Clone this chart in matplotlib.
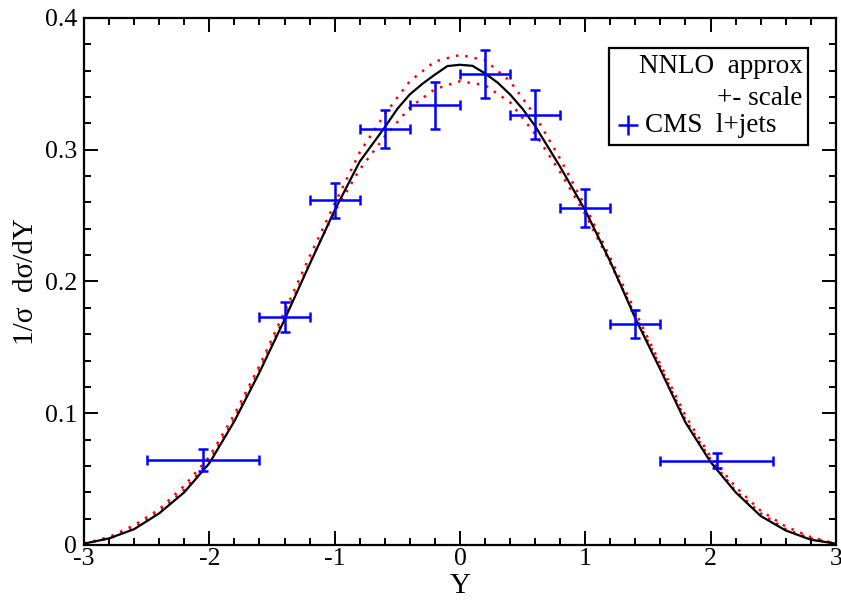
import matplotlib
matplotlib.use("Agg")
import matplotlib.pyplot as plt
from matplotlib.patches import Rectangle
from matplotlib.ticker import MultipleLocator

plt.rcParams['font.family'] = ['Liberation Serif', 'DejaVu Serif']

# NNLO approx (central)
y_nnlo = [-3.0, -2.8, -2.6, -2.4, -2.2, -2.0, -1.8, -1.6, -1.4, -1.2, -1.0, -0.8,
          -0.6, -0.5, -0.4, -0.3, -0.2, -0.1, 0.0, 0.1, 0.2, 0.3, 0.4, 0.5, 0.6,
          0.8, 1.0, 1.2, 1.4, 1.6, 1.8, 2.0, 2.2, 2.4, 2.6, 2.8, 3.0]
d_nnlo = [0.001, 0.005, 0.012, 0.024, 0.040, 0.062, 0.094, 0.131, 0.171, 0.213,
          0.254, 0.291, 0.317, 0.331, 0.342, 0.350, 0.357, 0.3635, 0.3645, 0.3637,
          0.358, 0.351, 0.342, 0.331, 0.318, 0.287, 0.254, 0.215, 0.172, 0.133,
          0.093, 0.063, 0.040, 0.022, 0.011, 0.004, 0.001]

# scale variation
y_scale = [-3.0, -2.8, -2.6, -2.4, -2.2, -2.0, -1.8, -1.6, -1.4, -1.2, -1.0, -0.8,
           -0.6, -0.4, -0.2, 0.0, 0.2, 0.4, 0.6, 0.8, 1.0, 1.2, 1.4, 1.6, 1.8,
           2.0, 2.2, 2.4, 2.6, 2.8, 3.0]
d_up = [0.001, 0.006, 0.015, 0.027, 0.045, 0.067, 0.099, 0.136, 0.177, 0.219,
        0.259, 0.298, 0.327, 0.352, 0.367, 0.372, 0.368, 0.352, 0.326, 0.293,
        0.257, 0.218, 0.177, 0.137, 0.098, 0.067, 0.044, 0.026, 0.014, 0.006, 0.001]
d_down = [0.001, 0.005, 0.013, 0.025, 0.042, 0.064, 0.096, 0.133, 0.173, 0.214,
          0.253, 0.285, 0.310, 0.332, 0.346, 0.352, 0.349, 0.336, 0.312, 0.283,
          0.251, 0.214, 0.174, 0.135, 0.095, 0.065, 0.041, 0.024, 0.012, 0.005, 0.001]

# CMS l+jets data
cms_y = [-2.05, -1.4, -1.0, -0.6, -0.2, 0.2, 0.6, 1.0, 1.4, 2.05]
cms_yerr_x = [0.45, 0.2, 0.2, 0.2, 0.2, 0.2, 0.2, 0.2, 0.2, 0.45]
cms_val = [0.0645, 0.173, 0.2615, 0.3156, 0.3336, 0.3576, 0.3265, 0.2556, 0.1678, 0.0638]
cms_err = [0.008, 0.0116, 0.013, 0.0146, 0.018, 0.0183, 0.0187, 0.0145, 0.0107, 0.0057]

fig = plt.figure(figsize=(8.41, 6.0), dpi=100)
ax = fig.add_axes([0.0999, 0.0917, 0.894, 0.8783])

ax.plot(y_scale, d_up, color='red', lw=1.8, ls=(0, (1, 2.8)))
ax.plot(y_scale, d_down, color='red', lw=1.8, ls=(0, (1, 2.8)))
ax.plot(y_nnlo, d_nnlo, color='black', lw=1.6)
ax.errorbar(cms_y, cms_val, xerr=cms_yerr_x, yerr=cms_err, fmt='none',
            ecolor='blue', elinewidth=1.8, capsize=3.5, capthick=1.8)

ax.set_xlim(-3, 3)
ax.set_ylim(0, 0.4)
ax.xaxis.set_minor_locator(MultipleLocator(0.2))
ax.yaxis.set_minor_locator(MultipleLocator(0.02))
ax.set_xticks([-3, -2, -1, 0, 1, 2, 3])
ax.set_xticklabels(['-3', '-2', '-1', '0', '1', '2', '3'])
ax.set_yticks([0, 0.1, 0.2, 0.3, 0.4])
ax.set_yticklabels(['0', '0.1', '0.2', '0.3', '0.4'])
ax.tick_params(which='both', direction='in', top=True, right=True,
               labelsize=18.5, width=1.4)
ax.tick_params(which='major', length=10)
ax.tick_params(axis='x', which='major', pad=2)
ax.tick_params(axis='y', which='major', pad=5)
ax.tick_params(which='minor', length=5)
for s in ax.spines.values():
    s.set_linewidth(1.6)

ax.set_xlabel('Y', fontsize=21, va='bottom')
ax.xaxis.set_label_coords(0.5, -0.103)
ax.set_ylabel('1/σ  dσ/dY', fontsize=21, labelpad=4)

# legend box
ax.add_patch(Rectangle((0.698, 0.759), 0.265, 0.184, transform=ax.transAxes,
                       fill=False, lw=1.6, ec='black', zorder=5))
ax.text(0.956, 0.8956, 'NNLO  approx', transform=ax.transAxes, ha='right',
        va='baseline', fontsize=19.5, zorder=6)
ax.text(0.956, 0.835, '+- scale', transform=ax.transAxes, ha='right',
        va='baseline', fontsize=19.5, zorder=6)
ax.plot([0.7234], [0.797], marker='+', color='blue', ms=14, mew=1.8,
        transform=ax.transAxes, zorder=6)
ax.text(0.746, 0.7837, 'CMS  l+jets', transform=ax.transAxes, ha='left',
        va='baseline', fontsize=19.5, zorder=6)

fig.savefig('out.png', dpi=100)
